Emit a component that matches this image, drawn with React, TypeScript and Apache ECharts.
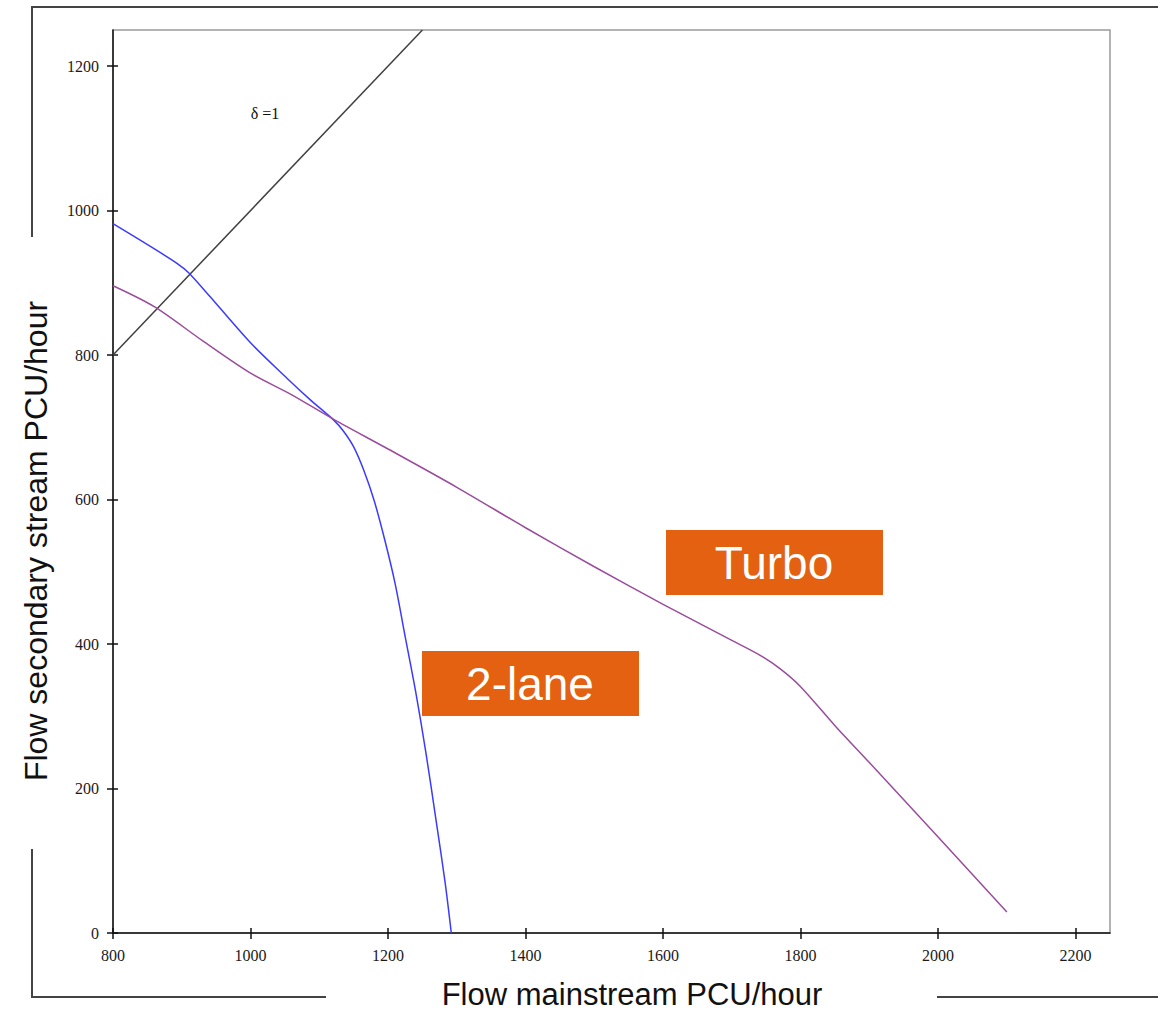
import React, { useEffect, useRef } from "react";
import * as echarts from "echarts";

// Flow mainstream (PCU/hour) vs flow secondary stream (PCU/hour)
const twoLaneX = [800, 855, 893, 910, 941, 1000, 1053, 1087, 1121, 1135, 1150, 1165, 1180, 1195, 1210, 1225, 1240, 1255, 1270, 1283, 1292];
const twoLaneY = [982, 950, 927, 914, 881, 817, 768, 738, 710, 695, 673, 640, 598, 545, 485, 410, 335, 250, 155, 70, 0];

const turboX = [800, 860, 930, 1000, 1060, 1121, 1200, 1300, 1400, 1500, 1600, 1700, 1740, 1770, 1800, 1850, 1900, 2000, 2100];
const turboY = [896, 867, 820, 775, 745, 711, 670, 617, 561, 507, 455, 405, 385, 366, 341, 287, 236, 133, 29];

const deltaX = [800, 1250];
const deltaY = [800, 1250];

const xTicks = [800, 1000, 1200, 1400, 1600, 1800, 2000, 2200];
const yTicks = [0, 200, 400, 600, 800, 1000, 1200];

const xTitle = "Flow mainstream PCU/hour";
const yTitle = "Flow secondary stream PCU/hour";
const deltaLabel = "δ =1";
const turboLabel = "Turbo";
const twoLaneLabel = "2-lane";

const zip = (xs: number[], ys: number[]) => xs.map((x, i) => [x, ys[i]]);

export default function App() {
  const ref = useRef<HTMLDivElement>(null);
  useEffect(() => {
    if (!ref.current) return;
    const chart = echarts.init(ref.current, null, { renderer: "svg" });
    const serif = "'Liberation Serif', 'Times New Roman', serif";
    const sans = "'Liberation Sans', Arial, sans-serif";
    const frame = "#444";
    const orange = "#E36110";
    const fmt = (v: number) => String(v);
    const baseX = {
      type: "value" as const,
      min: 800,
      max: 2250,
      interval: 200,
      splitLine: { show: false },
    };
    const baseY = {
      type: "value" as const,
      min: 0,
      max: 1250,
      interval: 200,
      splitLine: { show: false },
    };
    chart.setOption({
      animation: false,
      backgroundColor: "#fff",
      grid: {
        left: 113,
        top: 30,
        right: 48,
        bottom: 79,
        show: true,
        borderColor: "#9a9a9a",
        borderWidth: 1.5,
        containLabel: false,
      },
      xAxis: [
        {
          ...baseX,
          position: "bottom",
          axisLine: { show: true, lineStyle: { color: "#111", width: 1.5 } },
          axisTick: { show: true, inside: false, length: 6, lineStyle: { color: "#111", width: 1.5 }, customValues: xTicks },
          axisLabel: { show: true, customValues: xTicks, formatter: fmt, margin: 14, fontFamily: serif, fontSize: 16, color: "#1a1a1a" },
        },
        {
          ...baseX,
          position: "bottom",
          axisLine: { show: false },
          axisTick: { show: true, inside: true, length: 5, lineStyle: { color: "#111", width: 1.5 }, customValues: xTicks },
          axisLabel: { show: false },
        },
      ],
      yAxis: [
        {
          ...baseY,
          position: "left",
          axisLine: { show: true, lineStyle: { color: "#111", width: 1.5 } },
          axisTick: { show: true, inside: false, length: 6, lineStyle: { color: "#111", width: 1.5 }, customValues: yTicks },
          axisLabel: { show: true, customValues: yTicks, formatter: fmt, margin: 14, fontFamily: serif, fontSize: 16, color: "#1a1a1a" },
        },
        {
          ...baseY,
          position: "left",
          axisLine: { show: false },
          axisTick: { show: true, inside: true, length: 5, lineStyle: { color: "#111", width: 1.5 }, customValues: yTicks },
          axisLabel: { show: false },
        },
      ],
      series: [
        {
          name: "δ = 1",
          type: "line",
          data: zip(deltaX, deltaY),
          showSymbol: false,
          lineStyle: { color: "#404040", width: 1.5 },
          z: 2,
        },
        {
          name: "2-lane",
          type: "line",
          data: zip(twoLaneX, twoLaneY),
          smooth: 0.3,
          showSymbol: false,
          lineStyle: { color: "#3b3bff", width: 1.5 },
          z: 3,
        },
        {
          name: "Turbo",
          type: "line",
          data: zip(turboX, turboY),
          smooth: 0.3,
          showSymbol: false,
          lineStyle: { color: "#9a4c9c", width: 1.5 },
          z: 3,
        },
      ],
      graphic: [
        // outer frame pieces
        { type: "line", shape: { x1: 31, y1: 7, x2: 1158, y2: 7 }, style: { stroke: frame, lineWidth: 2 } },
        { type: "line", shape: { x1: 32, y1: 6, x2: 32, y2: 237 }, style: { stroke: frame, lineWidth: 2 } },
        { type: "line", shape: { x1: 32, y1: 849, x2: 32, y2: 998 }, style: { stroke: frame, lineWidth: 2 } },
        { type: "line", shape: { x1: 31, y1: 997, x2: 326, y2: 997 }, style: { stroke: frame, lineWidth: 2 } },
        { type: "line", shape: { x1: 937, y1: 997, x2: 1158, y2: 997 }, style: { stroke: frame, lineWidth: 2 } },
        // axis titles
        {
          type: "text",
          x: 632,
          y: 994.5,
          style: { text: xTitle, fill: "#111", font: `31px ${sans}`, align: "center", verticalAlign: "middle" },
        },
        {
          type: "text",
          x: 36,
          y: 541,
          rotation: Math.PI / 2,
          style: { text: yTitle, fill: "#111", font: `32px ${sans}`, align: "center", verticalAlign: "middle" },
        },
        // delta annotation
        {
          type: "text",
          x: 265,
          y: 113,
          style: { text: deltaLabel, fill: "#111", font: `16px ${serif}`, align: "center", verticalAlign: "middle" },
          z: 10,
        },
        // orange labels
        { type: "rect", shape: { x: 666, y: 530, width: 217, height: 65 }, style: { fill: orange }, z: 10 },
        {
          type: "text",
          x: 774,
          y: 563,
          style: { text: turboLabel, fill: "#fff", font: `46px ${sans}`, align: "center", verticalAlign: "middle" },
          z: 11,
        },
        { type: "rect", shape: { x: 422, y: 651, width: 217, height: 65 }, style: { fill: orange }, z: 10 },
        {
          type: "text",
          x: 530,
          y: 684,
          style: { text: twoLaneLabel, fill: "#fff", font: `46px ${sans}`, align: "center", verticalAlign: "middle" },
          z: 11,
        },
      ],
    });
    return () => chart.dispose();
  }, []);
  return (
    <div
      ref={ref}
      style={{ position: "fixed", left: 0, top: 0, width: 1158, height: 1012, background: "#fff" }}
    />
  );
}
